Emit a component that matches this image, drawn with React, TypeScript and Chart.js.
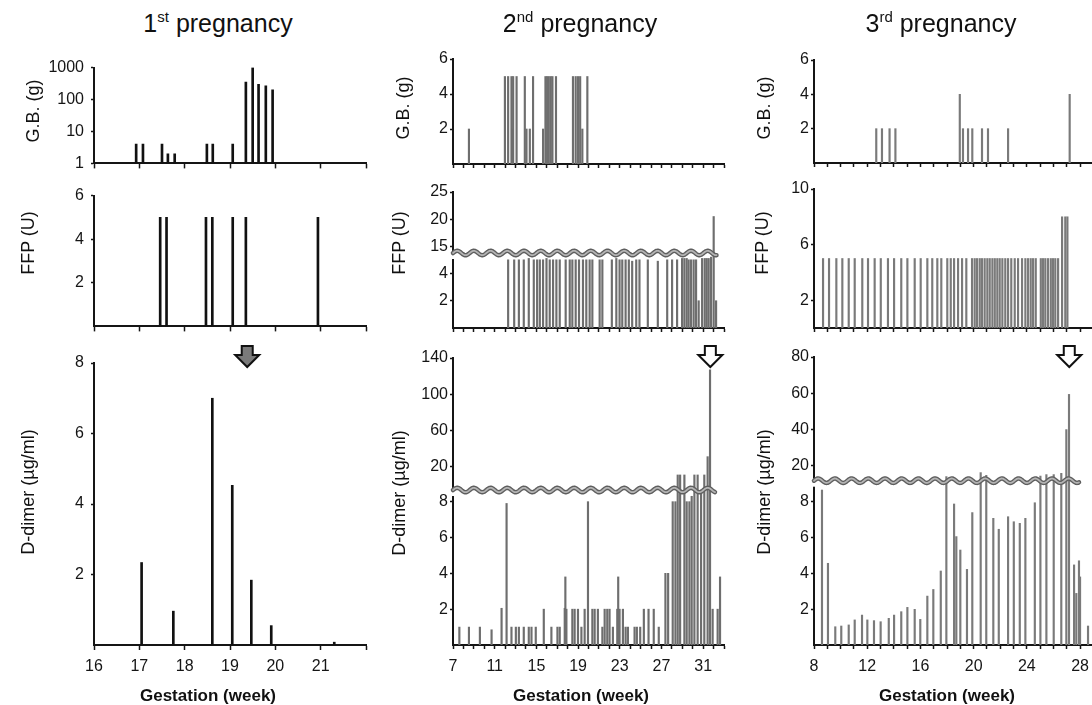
import React, { useEffect, useRef } from 'react';
import { Chart, registerables, LinearScale } from 'chart.js';

// ---------------- data ----------------
const titleNumbers = ['1', '2', '3'];
const titleSuffixes = ['st', 'nd', 'rd'];

const weekTicks1 = [16, 17, 18, 19, 20, 21, 22];
const weekLabels1 = [16, 17, 18, 19, 20, 21];
const weekTicks2 = [7, 8, 9, 10, 11, 12, 13, 14, 15, 16, 17, 18, 19, 20, 21, 22, 23, 24, 25, 26, 27, 28, 29, 30, 31, 32, 33];
const weekLabels2 = [7, 11, 15, 19, 23, 27, 31];
const weekTicks3 = [8, 9, 10, 11, 12, 13, 14, 15, 16, 17, 18, 19, 20, 21, 22, 23, 24, 25, 26, 27, 28, 29];
const weekLabels3 = [8, 12, 16, 20, 24, 28];

const gbTicks1 = [1, 10, 100, 1000];
const ffpTicks1 = [2, 4, 6];
const ddTicks1 = [2, 4, 6, 8];
const gbTicks2 = [2, 4, 6];
const ffpTicks2 = [2, 4, 15, 20, 25];
const ddTicks2 = [2, 4, 6, 8, 20, 60, 100, 140];
const gbTicks3 = [2, 4, 6];
const ffpTicks3 = [2, 6, 10];
const ddTicks3 = [2, 4, 6, 8, 20, 40, 60, 80];

// 1st pregnancy
const gbWeeks1 = [16.93, 17.08, 17.5, 17.63, 17.78, 18.49, 18.62, 19.06, 19.35, 19.5, 19.63, 19.79, 19.94];
const gbValues1 = [4, 4, 4, 2, 2, 4, 4, 4, 350, 1000, 300, 270, 200];
const ffpWeeks1 = [17.46, 17.6, 18.47, 18.61, 19.06, 19.35, 20.94];
const ffpValues1 = [5, 5, 5, 5, 5, 5, 5];
const ddWeeks1 = [17.05, 17.75, 18.61, 19.05, 19.47, 19.91, 21.3];
const ddValues1 = [2.34, 0.96, 7.0, 4.53, 1.84, 0.55, 0.08];

// 2nd pregnancy
const gbWeeks2 = [8.53, 11.98, 12.29, 12.61, 12.72, 12.77, 13.1, 13.89, 14.05, 14.37, 14.68, 15.64, 15.87, 16.03, 16.19, 16.38, 16.54, 16.88, 18.51, 18.77, 18.99, 19.2, 19.41, 19.89];
const gbValues2 = [2, 5, 5, 5, 2, 5, 5, 5, 2, 2, 5, 2, 5, 5, 5, 5, 5, 5, 5, 5, 5, 5, 2, 5];
const ffpWeeks2 = [12.29, 12.87, 13.32, 13.79, 14.27, 14.75, 15.07, 15.33, 15.64, 15.97, 16.28, 16.6, 16.92, 17.24, 17.81, 18.2, 18.45, 18.77, 19.09, 19.47, 19.79, 20.11, 20.37, 21.07, 21.33, 22.24, 22.67, 22.98, 23.24, 23.56, 23.87, 24.19, 24.58, 24.89, 25.69, 26.65, 27.55, 28.02, 28.5, 28.98, 29.2, 29.42, 29.61, 29.84, 30.09, 30.32, 30.57, 30.9, 31.15, 31.34, 31.53, 31.76, 32.01, 32.24];
const ffpValues2 = [5, 5, 5, 5, 5.1, 5, 5, 5, 5, 5.1, 5, 5, 5, 5, 5, 5, 5, 5, 5, 5, 5, 5, 5, 5, 5, 5, 5.1, 5, 5, 5, 5, 4.9, 5, 5, 5, 4.9, 5, 5, 5, 5.1, 5.1, 5.1, 5, 5, 5, 5, 2, 5.1, 5.1, 5.1, 5.1, 5.2, 20.5, 2];
const ddWeeks2 = [7.61, 8.53, 9.58, 10.7, 11.66, 12.14, 12.61, 13.03, 13.32, 13.79, 14.27, 14.53, 14.94, 15.71, 16.44, 17.02, 17.24, 17.72, 17.78, 17.88, 18.45, 18.67, 18.99, 19.32, 19.63, 19.95, 20.37, 20.59, 20.9, 21.33, 21.55, 21.8, 22.02, 22.34, 22.76, 22.85, 22.98, 23.3, 23.56, 23.78, 24.42, 24.64, 24.96, 25.31, 25.76, 26.26, 26.74, 27.38, 27.64, 28.08, 28.34, 28.56, 28.79, 29.2, 29.42, 29.68, 29.9, 30.16, 30.47, 30.8, 31.11, 31.43, 31.66, 31.91, 32.39, 32.62];
const ddValues2 = [1, 1, 1, 0.85, 2.05, 7.9, 1, 1, 1, 1, 1, 1, 1, 2, 1, 1, 1, 2.05, 3.8, 2, 2, 2, 2, 1, 2, 8, 2, 2, 2, 1, 2, 2, 2, 1, 2, 3.8, 2, 2, 1, 1, 1, 1, 1, 2, 2, 2, 1, 4, 4, 8, 8, 10.8, 10.8, 10.8, 8, 8, 8.3, 10.8, 10.8, 8.5, 10.8, 31, 127, 2, 2, 3.8];

// 3rd pregnancy
const gbWeeks3 = [12.68, 13.11, 13.68, 14.12, 18.96, 19.2, 19.58, 19.9, 20.63, 21.08, 22.59, 27.22];
const gbValues3 = [2, 2, 2, 2, 4, 2, 2, 2, 2, 2, 2, 4];
const ffpWeeks3 = [8.68, 9.13, 9.68, 10.13, 10.61, 11.06, 11.63, 12.06, 12.56, 13.02, 13.56, 14.02, 14.56, 15.02, 15.57, 16.02, 16.52, 16.89, 17.27, 17.57, 18.02, 18.28, 18.53, 18.83, 19.13, 19.45, 19.88, 20.08, 20.26, 20.46, 20.63, 20.83, 21.03, 21.21, 21.41, 21.59, 21.78, 21.96, 22.16, 22.38, 22.59, 22.83, 23.09, 23.34, 23.64, 23.89, 24.09, 24.29, 24.47, 24.67, 25.05, 25.22, 25.39, 25.59, 25.8, 25.97, 26.14, 26.35, 26.65, 26.89, 27.05];
const ffpValues3 = [5, 5, 5, 5, 5, 5, 5, 5, 5, 5, 5, 5, 5, 5, 5, 5, 5, 5, 5, 5, 5, 5, 5, 5, 5, 5, 5, 5, 5, 5, 5, 5, 5, 5, 5, 5, 5, 5, 5, 5, 5, 5, 5, 5, 5, 5, 5, 5, 5, 5, 5, 5, 5, 5, 5, 5, 5, 5, 8, 8, 8];
const ddWeeks3 = [8.6, 9.05, 9.6, 10.05, 10.61, 11.06, 11.61, 12.01, 12.51, 13.01, 13.62, 14.02, 14.56, 15.02, 15.57, 15.99, 16.52, 16.97, 17.53, 17.95, 18.53, 18.7, 19.0, 19.5, 19.9, 20.53, 20.95, 21.48, 21.89, 22.59, 23.02, 23.47, 23.89, 24.6, 25.02, 25.47, 26.02, 26.59, 26.97, 27.17, 27.55, 27.72, 27.92, 28.0, 28.6];
const ddValues3 = [8.65, 4.56, 1.02, 1.06, 1.12, 1.4, 1.67, 1.4, 1.36, 1.3, 1.49, 1.67, 1.86, 2.1, 1.99, 1.43, 2.73, 3.1, 4.13, 14.1, 7.87, 6.05, 5.3, 4.22, 7.39, 16.3, 14.8, 7.07, 6.46, 7.16, 6.88, 6.79, 7.07, 7.94, 14.4, 15.2, 15.2, 15.9, 40, 59.4, 4.47, 2.88, 4.7, 3.8, 1.06];

const arrowWeeks = [19.38, 31.69, 27.19];

// ---------------- custom broken-axis scale ----------------
class BrokenScale extends LinearScale {
  static id = 'broken';
  static defaults = {};
  getPixelForValue(value: any) {
    const b: any = (this as any).brk;
    if (value === null || value === undefined || isNaN(value)) return NaN;
    if (!b) return super.getPixelForValue(value);
    let dec: number;
    if (value <= b.lo) dec = ((value - this.min) / (b.lo - this.min)) * b.frac;
    else if (value < b.hi) dec = b.frac;
    else dec = b.frac + ((value - b.hi) / (this.max - b.hi)) * (1 - b.frac);
    return this.getPixelForDecimal(dec);
  }
  getValueForPixel(pixel: number) {
    const b: any = (this as any).brk;
    if (!b) return super.getValueForPixel(pixel);
    const dec = this.getDecimalForPixel(pixel);
    if (dec <= b.frac) return this.min + (dec / b.frac) * (b.lo - this.min);
    return b.hi + ((dec - b.frac) / (1 - b.frac)) * (this.max - b.hi);
  }
}
Chart.register(...registerables, BrokenScale);

const FONT = '"Liberation Sans", Arial, Helvetica, sans-serif';
const AX = '#151515';
const PADL = 70;
const PADR = 24;

type Spec = {
  area: number[]; // left, top, right, bottom (page px)
  padT: number;
  padB: number;
  xMin: number;
  xMax: number;
  xTicks: number[];
  xLabels: number[];
  xTickLen: number;
  xTickPad: number;
  yType: string;
  yMin: number;
  yMax: number;
  yTicks: number[];
  yTickLen: number;
  yTickPad: number;
  brk?: { lo: number; hi: number; frac: number };
  waveEnd?: number;
  weeks: number[];
  values: number[];
  color: string;
  thick: number;
  arrow?: { week: number; fill: string; top: number };
};

function Panel({ spec }: { spec: Spec }) {
  const ref = useRef<HTMLCanvasElement>(null);
  const [l, t, r, b] = spec.area;
  const w = r - l + PADL + PADR;
  const h = b - t + spec.padT + spec.padB;
  const canvasLeft = l - PADL;
  const canvasTop = t - spec.padT;

  useEffect(() => {
    if (!ref.current) return;
    const setBrk = (s: any) => {
      if (spec.brk) s.brk = spec.brk;
    };
    const decor = {
      id: 'decor',
      afterDraw(chart: any) {
        const ctx = chart.ctx;
        const area = chart.chartArea;
        const xs = chart.scales.x;
        const ys = chart.scales.y;
        ctx.save();
        if (spec.brk && spec.waveEnd !== undefined) {
          const y = ys.getPixelForDecimal(spec.brk.frac);
          const x0 = area.left;
          const x1 = xs.getPixelForValue(spec.waveEnd);
          ctx.fillStyle = '#ffffff';
          ctx.fillRect(x0 - 3, y - 2, 6, 8);
          const period = 16.7;
          const amp = 2.2;
          const path = () => {
            ctx.beginPath();
            for (let x = x0; x <= x1; x += 0.5) {
              const yy = y - amp * Math.sin(((x - x0) / period) * Math.PI * 2);
              if (x === x0) ctx.moveTo(x, yy);
              else ctx.lineTo(x, yy);
            }
          };
          ctx.lineCap = 'round';
          path();
          ctx.strokeStyle = '#5e5e5e';
          ctx.lineWidth = 4.5;
          ctx.stroke();
          path();
          ctx.strokeStyle = '#b4b4b4';
          ctx.lineWidth = 1.8;
          ctx.stroke();
        }
        if (spec.arrow) {
          const cx = xs.getPixelForValue(spec.arrow.week);
          const ty = spec.arrow.top - canvasTop;
          const sw = 5.5, hw = 12, sh = 9, th = 21;
          ctx.beginPath();
          ctx.moveTo(cx - sw, ty);
          ctx.lineTo(cx + sw, ty);
          ctx.lineTo(cx + sw, ty + sh);
          ctx.lineTo(cx + hw, ty + sh);
          ctx.lineTo(cx, ty + th);
          ctx.lineTo(cx - hw, ty + sh);
          ctx.lineTo(cx - sw, ty + sh);
          ctx.closePath();
          ctx.fillStyle = spec.arrow.fill;
          ctx.fill();
          ctx.strokeStyle = '#111';
          ctx.lineWidth = 2;
          ctx.lineJoin = 'miter';
          ctx.stroke();
        }
        ctx.restore();
      },
    };
    const tickFont = { family: FONT, size: 16 };
    const chart = new Chart(ref.current, {
      type: 'bar',
      data: {
        datasets: [
          {
            data: spec.weeks.map((wk, i) => ({ x: wk, y: spec.values[i] })),
            backgroundColor: spec.color,
            borderWidth: 0,
            barThickness: spec.thick,
            grouped: false,
          } as any,
        ],
      },
      options: {
        responsive: false,
        animation: false,
        events: [],
        layout: { padding: { top: spec.padT, right: PADR, left: 0, bottom: 0 } },
        plugins: { legend: { display: false }, tooltip: { enabled: false }, title: { display: false } },
        scales: {
          x: {
            type: 'linear',
            min: spec.xMin,
            max: spec.xMax,
            offset: false,
            grid: {
              display: true,
              offset: false,
              drawOnChartArea: false,
              drawTicks: true,
              tickLength: spec.xTickLen,
              tickColor: AX,
              tickWidth: 1.5,
              color: AX,
            },
            border: { display: true, color: AX, width: 2 },
            ticks: {
              autoSkip: false,
              maxRotation: 0,
              minRotation: 0,
              padding: spec.xTickPad,
              color: AX,
              font: tickFont,
              callback: (v: any) => (spec.xLabels.includes(Number(v)) ? String(v) : ''),
            },
            afterBuildTicks: (s: any) => {
              s.ticks = spec.xTicks.map((v) => ({ value: v }));
            },
            afterFit: (s: any) => {
              s.height = spec.padB;
            },
          } as any,
          y: {
            type: spec.yType,
            min: spec.yMin,
            max: spec.yMax,
            grid: {
              display: true,
              drawOnChartArea: false,
              drawTicks: true,
              tickLength: spec.yTickLen,
              tickColor: AX,
              tickWidth: 1.5,
              color: AX,
            },
            border: { display: true, color: AX, width: 2 },
            ticks: {
              autoSkip: false,
              padding: spec.yTickPad,
              color: AX,
              font: tickFont,
              callback: (v: any) => String(v),
            },
            afterDataLimits: setBrk,
            afterBuildTicks: (s: any) => {
              setBrk(s);
              s.ticks = spec.yTicks.map((v) => ({ value: v }));
            },
            afterFit: (s: any) => {
              s.width = PADL;
            },
          } as any,
        },
      },
      plugins: [decor],
    });
    return () => chart.destroy();
  }, []);

  return (
    <canvas
      ref={ref}
      width={w}
      height={h}
      style={{ position: 'absolute', left: canvasLeft, top: canvasTop, width: w, height: h }}
    />
  );
}

const col1 = { left: 94, right: 366, xMin: 16, xMax: 22, xTicks: weekTicks1, xLabels: weekLabels1, yTickLen: 3, yTickPad: 7, xTickLen: 5, xTickPad: 7, color: '#111111', thick: 2 };
const col2 = { left: 453, right: 724, xMin: 7, xMax: 33, xTicks: weekTicks2, xLabels: weekLabels2, yTickLen: 3, yTickPad: 2, xTickLen: 4, xTickPad: 8, color: '#6e6e6e', thick: 1.5 };
const col3 = { left: 814, right: 1100, xMin: 8, xMax: 29.5, xTicks: weekTicks3, xLabels: weekLabels3, yTickLen: 3, yTickPad: 2, xTickLen: 4, xTickPad: 8, color: '#7a7a7a', thick: 1.5 };

function mk(col: any, top: number, bottom: number, rest: any): Spec {
  const { left, right, ...c } = col;
  return { area: [left, top, right, bottom], padT: 12, padB: 14, xLabels: [], ...c, ...rest };
}

const specs: Spec[] = [
  mk(col1, 63, 166, { xLabels: [], yType: 'logarithmic', yMin: 1, yMax: 1000, yTicks: gbTicks1, weeks: gbWeeks1, values: gbValues1 }),
  mk(col1, 191, 329, { xLabels: [], yType: 'linear', yMin: 0, yMax: 6, yTicks: ffpTicks1, weeks: ffpWeeks1, values: ffpValues1 }),
  mk(col1, 363, 645, { padT: 20, padB: 40, yType: 'linear', yMin: 0, yMax: 8, yTicks: ddTicks1, weeks: ddWeeks1, values: ddValues1, xLabels: weekLabels1, arrow: { week: arrowWeeks[0], fill: '#7a7a7a', top: 346 } }),

  mk(col2, 59, 164, { xLabels: [], yType: 'linear', yMin: 0, yMax: 6, yTicks: gbTicks2, weeks: gbWeeks2, values: gbValues2 }),
  mk(col2, 192, 328, { xLabels: [], yType: 'broken', yMin: 0, yMax: 25, yTicks: ffpTicks2, brk: { lo: 5.5, hi: 13.8, frac: 0.5515 }, waveEnd: 32.3, weeks: ffpWeeks2, values: ffpValues2 }),
  mk(col2, 358, 645, { padT: 20, padB: 40, yType: 'broken', yMin: 0, yMax: 140, yTicks: ddTicks2, brk: { lo: 8.65, hi: -5.85, frac: 0.54 }, waveEnd: 32.15, weeks: ddWeeks2, values: ddValues2, xLabels: weekLabels2, arrow: { week: arrowWeeks[1], fill: '#ffffff', top: 346 } }),

  mk(col3, 60, 163, { xLabels: [], yType: 'linear', yMin: 0, yMax: 6, yTicks: gbTicks3, weeks: gbWeeks3, values: gbValues3 }),
  mk(col3, 189, 328, { xLabels: [], yType: 'linear', yMin: 0, yMax: 10, yTicks: ffpTicks3, weeks: ffpWeeks3, values: ffpValues3 }),
  mk(col3, 357, 645, { padT: 20, padB: 40, yType: 'broken', yMin: 0, yMax: 80, yTicks: ddTicks3, brk: { lo: 9.17, hi: 11.85, frac: 0.5705 }, waveEnd: 27.95, weeks: ddWeeks3, values: ddValues3, xLabels: weekLabels3, arrow: { week: arrowWeeks[2], fill: '#ffffff', top: 346 } }),
];

const colTitleX = [218, 580, 941];
const xTitleX = [208, 581, 947];
const yTitles = [
  { text: 'G.B. (g)', pos: [[33, 111], [403, 108], [764, 108]] },
  { text: 'FFP (U)', pos: [[28, 243], [399, 243], [762, 243]] },
  { text: 'D-dimer (\u00b5g/ml)', pos: [[28, 492], [399, 493], [764, 492]] },
];

export default function App() {
  return (
    <div
      style={{
        position: 'fixed',
        left: 0,
        top: 0,
        width: 1092,
        height: 705,
        overflow: 'hidden',
        background: '#ffffff',
        fontFamily: FONT,
        color: '#111',
      }}
    >
      {specs.map((s, i) => (
        <Panel key={i} spec={s} />
      ))}
      {colTitleX.map((cx, i) => (
        <div
          key={'t' + i}
          style={{ position: 'absolute', left: cx, top: 8, transform: 'translateX(-50%)', fontSize: 25, whiteSpace: 'nowrap', lineHeight: '30px' }}
        >
          {titleNumbers[i]}
          <sup style={{ fontSize: 15, verticalAlign: 'top', lineHeight: '20px', position: 'relative', top: -1 }}>{titleSuffixes[i]}</sup> pregnancy
        </div>
      ))}
      {xTitleX.map((cx, i) => (
        <div
          key={'x' + i}
          style={{ position: 'absolute', left: cx, top: 696, transform: 'translate(-50%, -50%)', fontSize: 17, fontWeight: 'bold', whiteSpace: 'nowrap' }}
        >
          Gestation (week)
        </div>
      ))}
      {yTitles.map((yt, j) =>
        yt.pos.map((p, i) => (
          <div
            key={'y' + j + '-' + i}
            style={{ position: 'absolute', left: p[0], top: p[1], transform: 'translate(-50%, -50%) rotate(-90deg)', fontSize: 18, whiteSpace: 'nowrap' }}
          >
            {yt.text}
          </div>
        ))
      )}
    </div>
  );
}
